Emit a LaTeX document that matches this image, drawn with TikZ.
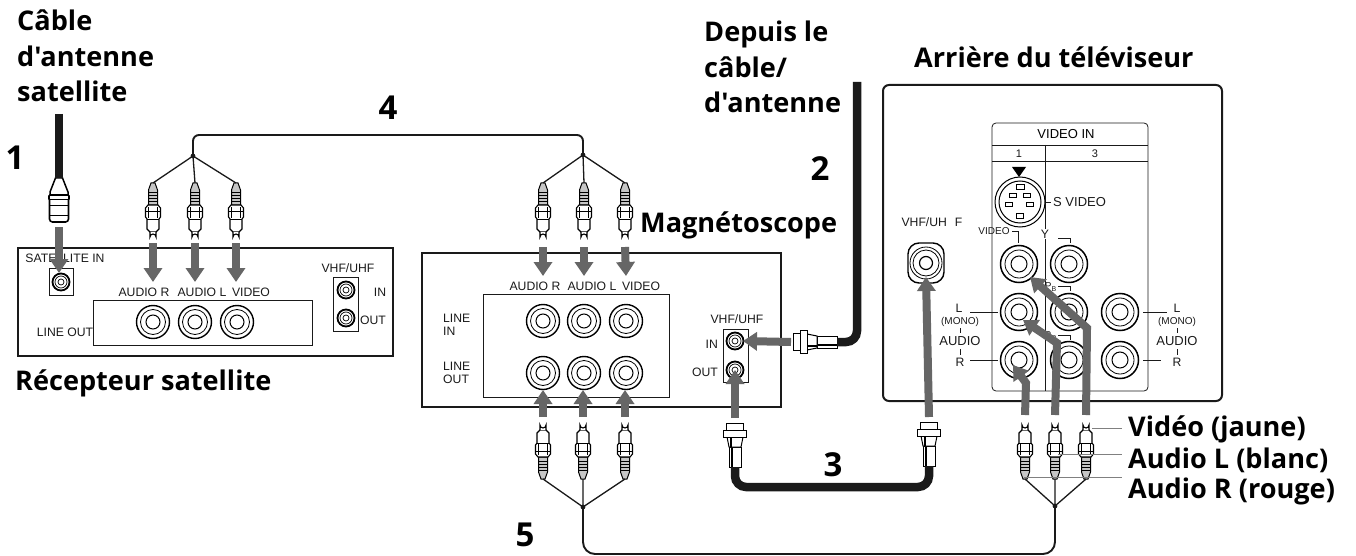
\documentclass[tikz,border=0pt]{standalone}
\usepackage{fontspec}
\setmainfont{Liberation Sans}
\newfontfamily\labelfont{Open Sans}
\usetikzlibrary{positioning,arrows.meta,calc}
\definecolor{arrowGray}{HTML}{666666}
\definecolor{leaderGray}{HTML}{808080}
\definecolor{inkBlack}{HTML}{1A1A1A}

\begin{document}
\begin{tikzpicture}[
    x=1pt, y=-1pt,
    deviceStyle/.style={draw=inkBlack, line width=2pt, fill=white},
    panelStyle/.style={draw=inkBlack, line width=0.8pt},
    smallText/.style={font=\fontsize{12.2}{13.5}\selectfont, text=inkBlack, inner sep=0pt, align=left},
    tinyText/.style={font=\fontsize{10}{11}\selectfont, text=inkBlack, inner sep=0pt},
    labelStyle/.style={font=\labelfont\bfseries\fontsize{27.1}{35.5}\selectfont, text=black, inner sep=0pt, align=left, anchor=west},
    stepStyle/.style={font=\labelfont\bfseries\fontsize{33}{34}\selectfont, text=black, inner sep=0pt},
    arrowStyle/.style={-{Triangle[length=14pt,width=18pt]}, line width=8pt, draw=arrowGray},
    wireStyle/.style={line width=1.9pt, draw=inkBlack},
    branchStyle/.style={line width=1.3pt, draw=inkBlack},
    coaxStyle/.style={line width=8.5pt, draw=inkBlack, rounded corners=11pt},
    leaderStyle/.style={line width=1pt, draw=leaderGray},
    rcaJack/.pic={
        \coordinate (-c) at (0,0);
        \draw[fill=white, line width=1.4pt] (0,0) circle (16.5);
        \draw[line width=0.8pt] (0,0) circle (12.5);
        \draw[line width=1pt] (0,0) circle (7);
    },
    tvJack/.pic={
        \coordinate (-c) at (0,0);
        \draw[fill=white, line width=1.5pt] (0,0) circle (18.5);
        \draw[line width=0.8pt] (0,0) circle (14);
        \draw[line width=1pt] (0,0) circle (8);
    },
    coaxJack/.pic={
        \coordinate (-c) at (0,0);
        \draw[fill=white, line width=1.8pt] (0,0) circle (8.5);
        \draw[line width=0.7pt] (0,0) circle (6);
        \draw[line width=0.7pt] (0,0) circle (3);
    },
    rcaPlug/.pic={
        \coordinate (-top) at (0,0);
        \coordinate (-tip) at (0,57);
        \draw[fill=gray!45, line width=1pt] (-2,0) -- (2,0) -- (4.5,7) -- (4.5,22) -- (-4.5,22) -- (-4.5,7) -- cycle;
        \draw[line width=0.7pt] (-4,9) -- (4,9) (-4,12) -- (4,12) (-4,15) -- (4,15) (-4,18) -- (4,18);
        \draw[fill=white, line width=1.1pt] (-5,22) -- (5,22) -- (7.5,25) -- (7.5,34) -- (6,36) -- (6,46) -- (3,49) -- (-3,49) -- (-6,46) -- (-6,36) -- (-7.5,34) -- (-7.5,25) -- cycle;
        \draw[line width=0.7pt] (-4.5,24) -- (-4.5,35) (4.5,24) -- (4.5,35) (-6,36) -- (6,36) (-7.5,28) -- (7.5,28);
        \draw[fill=white, line width=1.1pt] (-3,49) -- (-3,54) arc[start angle=180, end angle=360, x radius=3, y radius=3] -- (3,49);
    },
    coaxPlug/.pic={
        \coordinate (-top) at (0,0);
        \coordinate (-tip) at (0,44);
        \draw[fill=white, line width=1pt] (-6,0) rectangle (6,20);
        \draw[line width=1.4pt] (3,0) -- (3,20);
        \draw[fill=white, line width=1pt] (-6,20) -- (-8,30) -- (8,30) -- (6,20) -- cycle;
        \draw[line width=1.4pt] (4,20) -- (4,30);
        \draw[fill=white, line width=1pt] (-11.5,30) rectangle (11.5,37);
        \draw[fill=white, line width=1pt] (-8.5,37) rectangle (8.5,44);
    },
    satPlug/.pic={
        \coordinate (-top) at (0,0);
        \coordinate (-tip) at (0,44);
        \draw[fill=white, line width=1.5pt] (-3.5,0) -- (3.5,0) -- (9,14) -- (9,17) -- (-9,17) -- (-9,14) -- cycle;
        \draw[fill=white, line width=1.6pt, rounded corners=1pt] (-10,17) rectangle (10,22);
        \draw[fill=white, line width=1.6pt, rounded corners=3pt] (-9.5,22) -- (-9.5,44) -- (9.5,44) -- (9.5,22);
        \draw[line width=0.8pt] (-9,27) -- (9,27) (-9,37) -- (9,37);
    }
]
    % Page
    \path[fill=white, use as bounding box] (0,0) rectangle (1356,556);

    % Labels
    \node[labelStyle] (labelDish) at (17,56) {Câble\\d'antenne\\satellite};
    \node[labelStyle] (labelWall) at (704,67) {Depuis le\\câble/\\d'antenne};
    \node[labelStyle] (labelTv) at (914,57.5) {Arrière du téléviseur};
    \node[labelStyle] (labelVcr) at (640,225) {Magnétoscope};
    \node[labelStyle] (labelSat) at (15,383) {Récepteur satellite};
    \node[labelStyle] (labelVideo) at (1128,429) {Vidéo (jaune)};
    \node[labelStyle] (labelAudioL) at (1128,460) {Audio L (blanc)};
    \node[labelStyle] (labelAudioR) at (1128,491) {Audio R (rouge)};
    \node[stepStyle] (stepOne) at (15,158) {1};
    \node[stepStyle] (stepTwo) at (820,169) {2};
    \node[stepStyle] (stepThree) at (833,465) {3};
    \node[stepStyle] (stepFour) at (388,108) {4};
    \node[stepStyle] (stepFive) at (525,535) {5};

    % Satellite receiver
    \node[deviceStyle, minimum width=375pt, minimum height=108pt, anchor=north west] (satBox) at (17,247) {};
    \node[panelStyle, minimum width=219pt, minimum height=45pt, anchor=north west] (satLine) at (93,300) {};
    \node[panelStyle, minimum width=24pt, minimum height=27pt, anchor=north west] (satIn) at (49,268) {};
    \node[panelStyle, minimum width=25pt, minimum height=54pt, anchor=north west] (satVhf) at (333,277) {};
    \node[smallText] (satInText) at (65,258) {SATELLITE IN};
    \node[smallText] (satTextR) at (144,292) {AUDIO R};
    \node[smallText] (satTextL) at (202,292) {AUDIO L};
    \node[smallText] (satTextV) at (251,292) {VIDEO};
    \node[smallText] (satOutText) at (65,332) {LINE OUT};
    \node[smallText] (satVhfText) at (348,268) {VHF/UHF};
    \node[smallText] (satVhfIn) at (380,292) {IN};
    \node[smallText] (satVhfOut) at (373,320) {OUT};
    \pic (satDish) at (61,282) {coaxJack};
    \pic (satJackR) at (153,322) {rcaJack};
    \pic (satJackL) at (195,322) {rcaJack};
    \pic (satJackV) at (237,322) {rcaJack};
    \pic (satVhfA) at (346,290) {coaxJack};
    \pic (satVhfB) at (346,318) {coaxJack};

    % VCR
    \node[deviceStyle, minimum width=359pt, minimum height=154pt, anchor=north west] (vcrBox) at (421,252) {};
    \node[panelStyle, minimum width=186pt, minimum height=103pt, anchor=north west] (vcrLine) at (483,294) {};
    \node[panelStyle, minimum width=25pt, minimum height=53pt, anchor=north west] (vcrVhf) at (723,329) {};
    \node[smallText] (vcrTextR) at (535,286) {AUDIO R};
    \node[smallText] (vcrTextL) at (592,286) {AUDIO L};
    \node[smallText] (vcrTextV) at (641,286) {VIDEO};
    \node[smallText, anchor=west] (vcrLineIn) at (443,325) {LINE\\IN};
    \node[smallText, anchor=west] (vcrLineOut) at (443,373) {LINE\\OUT};
    \node[smallText] (vcrVhfText) at (737,319) {VHF/UHF};
    \node[smallText, anchor=east] (vcrVhfIn) at (718,344) {IN};
    \node[smallText, anchor=east] (vcrVhfOut) at (718,372) {OUT};
    \pic (vcrInR) at (543,321) {rcaJack};
    \pic (vcrInL) at (584,321) {rcaJack};
    \pic (vcrInV) at (626,321) {rcaJack};
    \pic (vcrOutR) at (543,373) {rcaJack};
    \pic (vcrOutL) at (584,373) {rcaJack};
    \pic (vcrOutV) at (626,373) {rcaJack};
    \pic (vcrVhfA) at (735,341) {coaxJack};
    \pic (vcrVhfB) at (735,370) {coaxJack};

    % TV rear
    \draw[deviceStyle, rounded corners=6pt] (883,85) rectangle (1222,401);
    \draw[panelStyle, rounded corners=4pt] (992,123) rectangle (1148,391);
    \draw[panelStyle] (992,145) -- (1148,145);
    \draw[panelStyle] (992,161) -- (1148,161);
    \draw[panelStyle] (1045,145) -- (1045,391);
    \node[font=\fontsize{13}{14}\selectfont, inner sep=0pt] (tvVideoIn) at (1066,134) {VIDEO IN};
    \node[tinyText, font=\fontsize{11}{12}\selectfont] (tvOne) at (1019,154) {1};
    \node[tinyText, font=\fontsize{11}{12}\selectfont] (tvThree) at (1095,154) {3};
    \fill[black] (1012,167) -- (1026,167) -- (1019,177) -- cycle;
    \node[smallText, fill=white, inner xsep=1pt, font=\fontsize{13}{14}\selectfont, anchor=west] (tvSvideo) at (1052,202) {S VIDEO};
    \node[smallText] (tvVhf) at (932,222) {VHF/UH\hspace{8pt}F};
    \node[tinyText] (tvVideoText) at (994,231) {VIDEO};
    \node[smallText, fill=white, inner sep=1pt] (tvY) at (1045,234) {Y};
    \node[tinyText, anchor=east] (tvPb) at (1057,287) {P\textsubscript{B}};
    \node[tinyText, anchor=east] (tvPr) at (1057,336) {P\textsubscript{R}};
    \draw[panelStyle] (1045,202) -- (1051,202);
    \draw[panelStyle] (1012,231) -- (1018,231) -- (1018,243);
    \draw[panelStyle] (1058,238) -- (1070,238) -- (1070,243);
    \draw[panelStyle] (1058,286) -- (1070,286) -- (1070,291);
    \draw[panelStyle] (1058,335) -- (1070,335) -- (1070,340);

    % Audio legends of the TV
    \node[smallText] (tvLeftL) at (959,308) {L};
    \node[tinyText] (tvLeftMono) at (960,322) {(MONO)};
    \node[smallText, font=\fontsize{13}{14}\selectfont] (tvLeftAudio) at (960,341) {AUDIO};
    \node[smallText] (tvLeftR) at (960,362) {R};
    \node[smallText] (tvRightL) at (1177,308) {L};
    \node[tinyText] (tvRightMono) at (1177,322) {(MONO)};
    \node[smallText, font=\fontsize{13}{14}\selectfont] (tvRightAudio) at (1177,341) {AUDIO};
    \node[smallText] (tvRightR) at (1177,362) {R};
    \draw[panelStyle] (970,312) -- (998,312) (970,360) -- (998,360);
    \draw[panelStyle] (1143,312) -- (1167,312) (1143,360) -- (1161,360);
    \draw[panelStyle] (960,328) -- (960,333) (960,349) -- (960,355);
    \draw[panelStyle] (1177,328) -- (1177,333) (1177,349) -- (1177,355);

    % TV connectors
    \draw[fill=white, line width=1pt] (1020,202) circle (25);
    \draw[line width=1pt] (1020,202) circle (21);
    \draw[line width=0.7pt] (1016,184) rectangle (1024,189);
    \draw[line width=0.7pt] (1009,193) rectangle (1016,197);
    \draw[line width=0.7pt] (1023,193) rectangle (1030,197);
    \draw[line width=0.7pt] (1005,202) rectangle (1012,206);
    \draw[line width=0.7pt] (1026,202) rectangle (1033,206);
    \draw[line width=0.7pt] (1016,213) rectangle (1023,218);
    \draw[fill=white, line width=1.4pt, rounded corners=11pt] (908,243) rectangle (944,283);
    \draw[line width=0.8pt] (926,263) circle (16);
    \draw[line width=0.8pt] (926,263) circle (13);
    \draw[line width=1.2pt] (926,263) circle (6.5);
    \coordinate (tvAntenna) at (926,277);
    \pic (tvVideo) at (1019,264) {tvJack};
    \pic (tvY3) at (1069,264) {tvJack};
    \pic (tvLeftJackL) at (1019,312) {tvJack};
    \pic (tvPbJack) at (1069,312) {tvJack};
    \pic (tvRightJackL) at (1120,312) {tvJack};
    \pic (tvLeftJackR) at (1019,360) {tvJack};
    \pic (tvPrJack) at (1069,360) {tvJack};
    \pic (tvRightJackR) at (1120,360) {tvJack};

    % Plugs
    \pic (topSatR) at (153,183) {rcaPlug};
    \pic (topSatL) at (195,183) {rcaPlug};
    \pic (topSatV) at (236,183) {rcaPlug};
    \pic (topVcrR) at (543,183) {rcaPlug};
    \pic (topVcrL) at (584,183) {rcaPlug};
    \pic (topVcrV) at (625,183) {rcaPlug};
    \pic[rotate=180] (lowVcrR) at (543,479) {rcaPlug};
    \pic[rotate=180] (lowVcrL) at (583,479) {rcaPlug};
    \pic[rotate=180] (lowVcrV) at (625,479) {rcaPlug};
    \pic[rotate=180] (lowTvR) at (1025,479) {rcaPlug};
    \pic[rotate=180] (lowTvL) at (1055,479) {rcaPlug};
    \pic[rotate=180] (lowTvV) at (1086,479) {rcaPlug};
    \pic[rotate=180] (coaxOut) at (735,467) {coaxPlug};
    \pic[rotate=180] (coaxTv) at (929,466) {coaxPlug};
    \pic[rotate=-90] (coaxWall) at (837,342) {coaxPlug};
    \pic (dishPlug) at (59,178) {satPlug};

    % Cables
    \coordinate (dishTop) at (59,114);
    \coordinate (wallTop) at (857,82);
    \coordinate (knotSat) at (193,156);
    \coordinate (knotVcr) at (583,155);
    \coordinate (knotLow) at (583,507);
    \coordinate (knotTv) at (1055,506);
    \draw[coaxStyle] (dishTop) -- (dishPlug-top);
    \draw[coaxStyle] (wallTop) |- (coaxWall-top);
    \draw[coaxStyle] (coaxOut-top) |- (929,487) -- (coaxTv-top);
    \draw[wireStyle, rounded corners=6pt] (knotSat) |- (583,135) -- (knotVcr);
    \draw[wireStyle, rounded corners=12pt] (knotLow) |- (1055,554) -- (knotTv);
    \draw[branchStyle] (knotSat) -- (topSatR-top) (knotSat) -- (topSatL-top) (knotSat) -- (topSatV-top);
    \draw[branchStyle] (knotVcr) -- (topVcrR-top) (knotVcr) -- (topVcrL-top) (knotVcr) -- (topVcrV-top);
    \draw[branchStyle] (knotLow) -- (lowVcrR-top) (knotLow) -- (lowVcrL-top) (knotLow) -- (lowVcrV-top);
    \draw[branchStyle] (knotTv) -- (lowTvR-top) (knotTv) -- (lowTvL-top) (knotTv) -- (lowTvV-top);
    \fill[inkBlack] (knotSat) circle (2.4) (knotVcr) circle (2.4) (knotLow) circle (2.4) (knotTv) circle (2.4);

    % Arrows
    \coordinate (tipDish) at (59,273);
    \coordinate (tipSatR) at (153,282);
    \coordinate (tipSatL) at (195,282);
    \coordinate (tipSatV) at (236,282);
    \coordinate (tipVcrR) at (543,276);
    \coordinate (tipVcrL) at (584,276);
    \coordinate (tipVcrV) at (626,276);
    \coordinate (tipWall) at (743,341);
    \draw[arrowStyle] ([yshift=-5pt]dishPlug-tip) -- (tipDish);
    \draw[arrowStyle] ([yshift=-3pt]topSatR-tip) -- (tipSatR);
    \draw[arrowStyle] ([yshift=-3pt]topSatL-tip) -- (tipSatL);
    \draw[arrowStyle] ([yshift=-3pt]topSatV-tip) -- (tipSatV);
    \draw[arrowStyle] ([yshift=-7pt]topVcrR-tip) -- (tipVcrR);
    \draw[arrowStyle] ([yshift=-7pt]topVcrL-tip) -- (tipVcrL);
    \draw[arrowStyle] ([yshift=-7pt]topVcrV-tip) -- (tipVcrV);
    \draw[arrowStyle] ([xshift=-2pt]coaxWall-tip) -- (tipWall);
    \draw[arrowStyle] ([yshift=5pt]lowVcrR-tip) -- (543,390);
    \draw[arrowStyle] ([yshift=5pt]lowVcrL-tip) -- (583,390);
    \draw[arrowStyle] ([yshift=5pt]lowVcrV-tip) -- (625,390);
    \draw[arrowStyle] ([yshift=5pt]coaxOut-tip) -- (vcrVhfB-c);
    \draw[arrowStyle] ([yshift=5pt]coaxTv-tip) -- (tvAntenna);
    \draw[arrowStyle] ([yshift=7pt]lowTvR-tip) -- (1026,383) -- (1013,365);
    \draw[arrowStyle] ([yshift=7pt]lowTvL-tip) -- (1057,343) -- (1023,320);
    \draw[arrowStyle] ([yshift=7pt]lowTvV-tip) -- (1087,328) -- (1030,277);

    % Leaders
    \draw[leaderStyle] (1092,428) -- (1122,428);
    \draw[leaderStyle] (1058,454) -- (1122,454);
    \draw[leaderStyle] (1024,477) -- (1122,477);
\end{tikzpicture}
\end{document}
